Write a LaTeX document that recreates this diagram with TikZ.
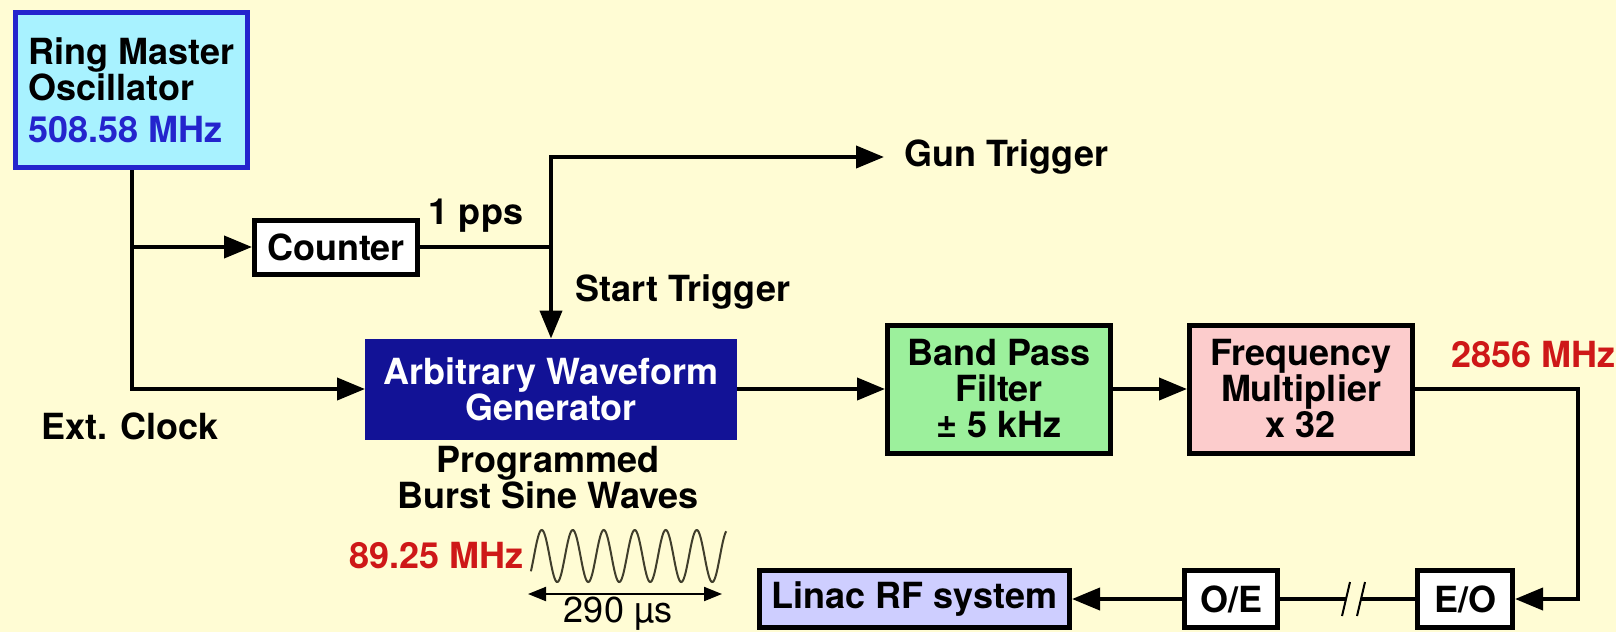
\documentclass[tikz,border=0pt]{standalone}
\usepackage{fontspec}
\setmainfont{TeX Gyre Heros}
\usetikzlibrary{arrows.meta}
\usepackage{xcolor}
\definecolor{bgyellow}{RGB}{255,252,212}
\definecolor{osccyan}{RGB}{168,242,255}
\definecolor{oscblue}{RGB}{36,36,205}
\definecolor{awgblue}{RGB}{18,18,150}
\definecolor{bpfgreen}{RGB}{156,240,156}
\definecolor{fmpink}{RGB}{252,204,204}
\definecolor{linacblue}{RGB}{206,206,255}
\definecolor{rfred}{RGB}{206,24,24}
\definecolor{wavegrey}{RGB}{64,62,44}

\begin{document}
\begin{tikzpicture}[x=0.5pt,y=-0.5pt,
    font={\fontsize{18}{18}\selectfont\bfseries},
    box/.style={draw=black, line width=2.5pt, fill=white, align=center, inner sep=0pt},
    lbl/.style={inner sep=2pt, align=center},
    wire/.style={line width=2pt},
    arr/.style={wire, -{Triangle[length=14pt,width=11pt]}},
    arrboth/.style={wire, {Triangle[length=14pt,width=11pt]}-{Triangle[length=14pt,width=11pt]}}]

        % Background
        \fill[bgyellow] (0,0) rectangle (1616,632);
        \useasboundingbox (0,0) rectangle (1616,632);

        % Blocks
        \node[box, draw=oscblue, fill=osccyan, align=left, minimum width=116pt, minimum height=77.5pt]
            (rmo) at (131.5,90) {Ring Master\\Oscillator\\[3pt]\textcolor{oscblue}{508.58 MHz}};
        \node[box, minimum width=81.5pt, minimum height=27pt] (counter) at (336,247) {Counter};
        \node[box, draw=awgblue, fill=awgblue, text=white, minimum width=183.5pt, minimum height=48pt]
            (awg) at (551,389) {Arbitrary Waveform\\Generator};
        \node[box, fill=bpfgreen, minimum width=111.5pt, minimum height=64pt]
            (bpf) at (999,389) {Band Pass\\Filter\\± 5 kHz};
        \node[box, fill=fmpink, minimum width=111.5pt, minimum height=64pt]
            (fm) at (1301,389) {Frequency\\Multiplier\\x 32};
        \node[box, fill=linacblue, minimum width=155pt, minimum height=28.5pt] (linac) at (914.5,599) {Linac RF system};
        \node[box, minimum width=46.5pt, minimum height=28.5pt] (oe) at (1231,599) {O/E};
        \node[box, minimum width=47.5pt, minimum height=28.5pt] (eo) at (1465,599) {E/O};

        % Labels
        \node[lbl] (pps) at (476,216) {1 pps};
        \node[lbl, anchor=west, inner xsep=10pt] (gun) at (884,157) {Gun Trigger};
        \node[lbl, anchor=west] (start) at (571,292) {Start Trigger};
        \node[lbl, anchor=west] (ext) at (37,426) {Ext. Clock};
        \node[lbl] (burst) at (548,478) {Programmed\\Burst Sine Waves};
        \node[lbl, anchor=east, text=rfred] (f89) at (528,556) {89.25 MHz};
        \node[lbl, anchor=west, text=rfred] (f2856) at (1447,355) {2856 MHz};
        \node[lbl, inner sep=0pt, font={\fontsize{18}{18}\selectfont\mdseries}] (dur) at (618,614) {290 µs};

        % Clock and trigger lines
        \draw[arr] (rmo.south) |- (awg.west);
        \draw[arr] (rmo.south |- counter.west) -- (counter.west);
        \draw[wire] (counter.east) -- (counter.east -| awg.north);
        \draw[arrboth] (gun.west) -| (awg.north);

        % Signal chain
        \coordinate (rfout) at (1578,389);
        \draw[arr] (awg.east) -- (bpf.west);
        \draw[arr] (bpf.east) -- (fm.west);
        \draw[arr] (fm.east) -- (rfout) |- (eo.east);

        % Fibre link with break
        \coordinate (brkL) at (1346,599);
        \coordinate (brkR) at (1361,599);
        \draw[wire] (eo.west) -- (brkR);
        \draw[wire] (brkL) -- (oe.east);
        \foreach \b in {brkL,brkR}
            \draw[line width=1pt] ([shift={(-4,17)}]\b) -- ([shift={(4,-17)}]\b);
        \draw[arr] (oe.west) -- (linac.east);

        % Burst waveform
        \draw[line width=1pt, wavegrey] plot[domain=-0.1:6.2, samples=250, smooth]
            ({534+31*\x},{556-26*sin(360*\x)});
        \coordinate (burstL) at (528,594);
        \coordinate (burstR) at (722,594);
        \draw[line width=1pt, {Triangle[length=9pt,width=7pt]}-{Triangle[length=9pt,width=7pt]}]
            (burstL) -- (burstR);

\end{tikzpicture}
\end{document}
